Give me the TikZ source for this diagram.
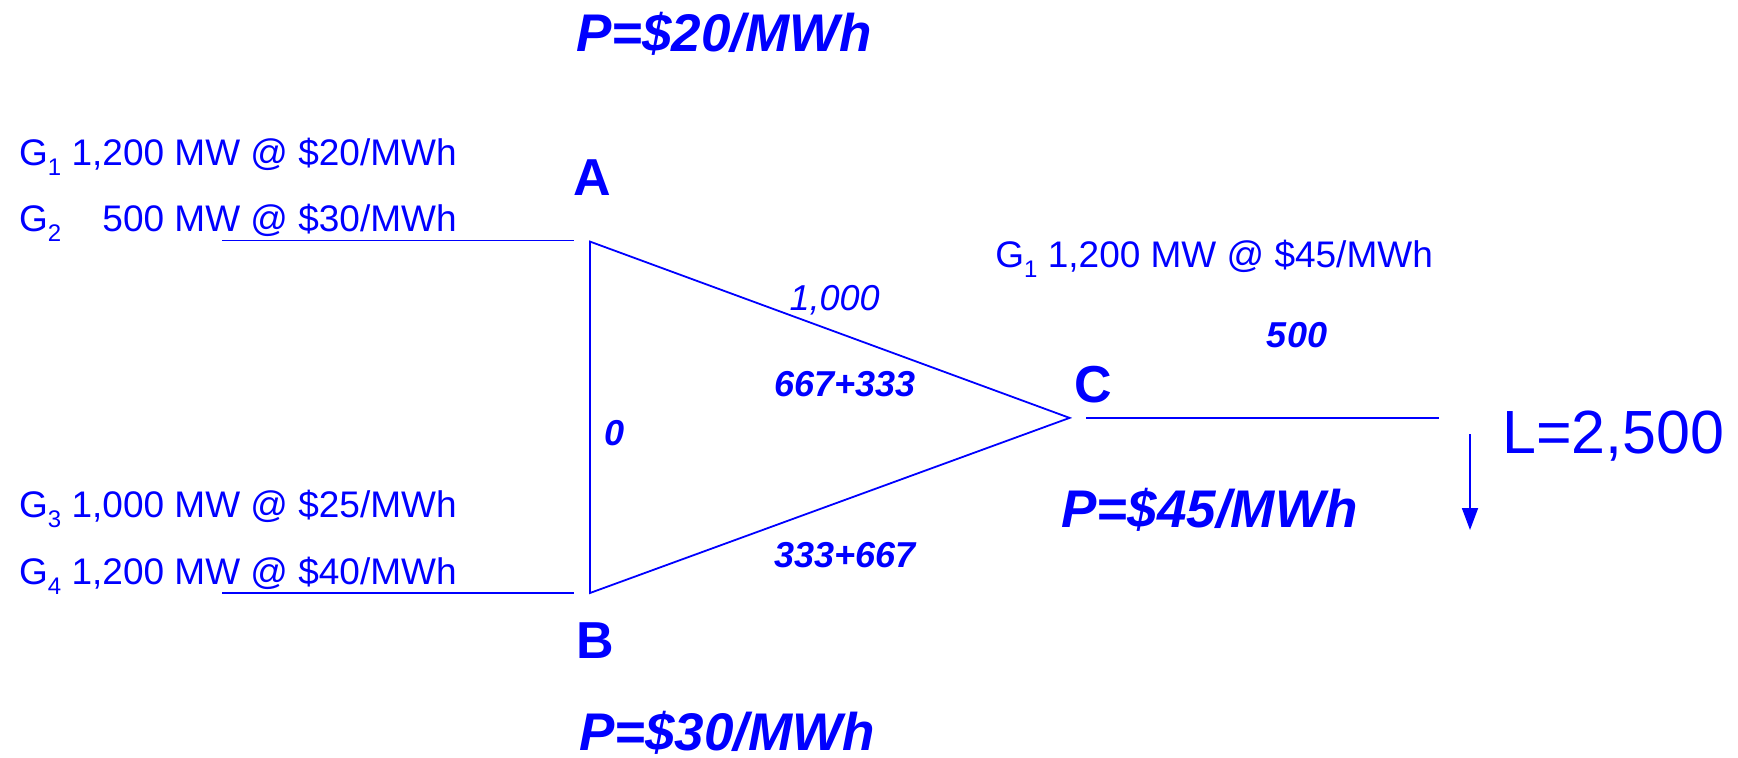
\documentclass[tikz,border=0pt]{standalone}
\usepackage{fontspec}
\setmainfont{Liberation Sans}
\usetikzlibrary{arrows.meta}
\definecolor{pblue}{RGB}{0,0,255}
\newcommand{\gsub}[1]{\raisebox{-5pt}{\fontsize{12}{12}\selectfont #1}}
\tikzset{
  gen/.style={anchor=base west, inner sep=0pt, text=pblue, font=\fontsize{18.5}{22}\selectfont},
  price/.style={anchor=base, inner sep=0pt, text=pblue, font=\fontsize{26.5}{30}\selectfont\bfseries\itshape},
  bus/.style={anchor=base, inner sep=0pt, text=pblue, font=\fontsize{26}{30}\selectfont\bfseries},
  flow/.style={anchor=base, inner sep=0pt, text=pblue, font=\fontsize{18}{22}\selectfont\bfseries\itshape},
  line/.style={draw=pblue, line width=0.9pt},
}
\begin{document}
\begin{tikzpicture}[x=0.5pt,y=-0.5pt]
\useasboundingbox (0,0) rectangle (1738,758);
% vertices
\coordinate (vA) at (590,241.6);
\coordinate (vB) at (590,593);
\coordinate (vC) at (1069.6,417.9);
\coordinate (la1) at (222,240.5);
\coordinate (la2) at (574,240.5);
\coordinate (lb1) at (222,593);
\coordinate (lb2) at (574,593);
\coordinate (lc1) at (1086,418);
\coordinate (lc2) at (1439,418);
\coordinate (ar1) at (1470,434.5);
\coordinate (ar2) at (1470,530);
% lines
\draw[line] (vA) -- (vB) -- (vC) -- cycle;
\draw[line] (la1) -- (la2);
\draw[line] (lb1) -- (lb2);
\draw[line] (lc1) -- (lc2);
\draw[line, -{Triangle[length=11pt,width=8pt]}] (ar1) -- (ar2);
% texts
\node[price] (pa) at (724,52) {P=\$20/MWh};
\node[price] (pb) at (727,750) {P=\$30/MWh};
\node[price, anchor=base west] (pc) at (1061,527) {P=\$45/MWh};
\node[bus] (A) at (592,195.5) {A};
\node[bus] (B) at (595,658) {B};
\node[bus] (C) at (1093,403) {C};
\node[gen] (g1) at (18.8,166) {G\gsub{1} 1,200 MW @ \$20/MWh};
\node[gen] (g2) at (18.8,231.6) {G\gsub{2} \phantom{1,}500 MW @ \$30/MWh};
\node[gen] (g3) at (18.8,517.5) {G\gsub{3} 1,000 MW @ \$25/MWh};
\node[gen] (g4) at (18.8,584) {G\gsub{4} 1,200 MW @ \$40/MWh};
\node[gen] (g5) at (995,268) {G\gsub{1} 1,200 MW @ \$45/MWh};
\node[flow, font=\fontsize{18}{22}\selectfont\itshape] (f1) at (834.6,311) {1,000};
\node[flow] (f2) at (844.6,396.4) {667+333};
\node[flow] (f3) at (844.6,567) {333+667};
\node[flow] (f4) at (615,445) {0};
\node[flow] (f5) at (1297,348) {500};
\node[gen, font=\fontsize{30.5}{34}\selectfont] (L) at (1502,453) {L=2,500};
\end{tikzpicture}
\end{document}
